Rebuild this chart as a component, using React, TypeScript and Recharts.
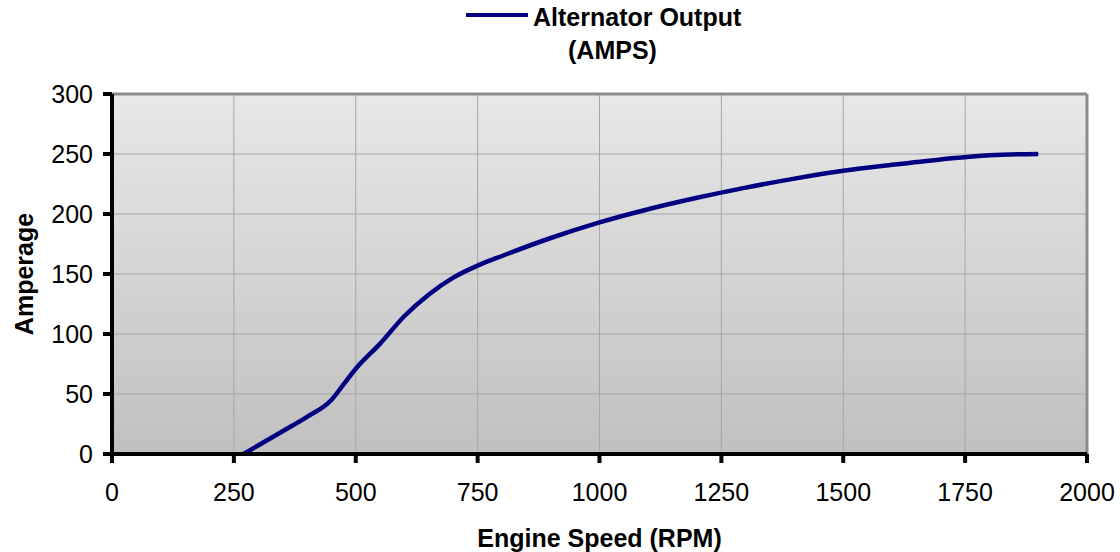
import { LineChart, Line, XAxis, YAxis, CartesianGrid, Legend, ReferenceLine } from "recharts"

// engine speed (RPM) and alternator output (amps)
const rpm = [270, 350, 400, 450, 475, 500, 550, 600, 650, 700, 750, 800, 900, 1000, 1100, 1200, 1300, 1400, 1500, 1600, 1700, 1800, 1900]
const amps = [0, 19, 31, 45, 58, 71, 92, 115, 133, 147, 157, 165, 180, 193, 204, 213.5, 222, 229.5, 236, 241, 245.5, 249, 250]

const xTicks = [0, 250, 500, 750, 1000, 1250, 1500, 1750, 2000]
const yTicks = [0, 50, 100, 150, 200, 250, 300]

const seriesName = "Alternator Output (AMPS)"
const xTitle = "Engine Speed (RPM)"
const yTitle = "Amperage"

const data = rpm.map((r, i) => ({ rpm: r, amps: amps[i] }))

const font = "'Liberation Sans', Arial, sans-serif"
const navy = "#000080"

const LegendBox = () => (
    <div style={{ position: "relative", width: 1120, height: 80, fontFamily: font, fontWeight: "bold", fontSize: 25, lineHeight: "25px", color: "#000" }}>
        <div style={{ position: "absolute", left: 466, top: 13, width: 62, height: 4, background: navy }} />
        <div style={{ position: "absolute", left: 533, top: 5, whiteSpace: "nowrap" }}>Alternator Output</div>
        <div style={{ position: "absolute", left: 568, top: 38, whiteSpace: "nowrap" }}>(AMPS)</div>
    </div>
)

const XTitle = (props: any) => {
    const { viewBox } = props
    return (
        <text x={viewBox.x + viewBox.width / 2} y={viewBox.y + 93} textAnchor="middle" fontFamily={font} fontWeight="bold" fontSize={25} fill="#000">
            {xTitle}
        </text>
    )
}

const YTitle = (props: any) => {
    const { viewBox } = props
    const cx = viewBox.x + 33
    const cy = viewBox.y + viewBox.height / 2
    return (
        <text x={cx} y={cy} transform={`rotate(-90 ${cx} ${cy})`} textAnchor="middle" fontFamily={font} fontWeight="bold" fontSize={25} fill="#000">
            {yTitle}
        </text>
    )
}

const App = () => {
    return (
        <div style={{ position: "absolute", left: 0, top: 0, background: "#fff" }}>
            <LineChart width={1120} height={552} data={data} margin={{ top: 94, right: 33, bottom: 0, left: 0 }}>
                <defs>
                    <linearGradient id="plotBg" x1="0" y1="0" x2="0" y2="1">
                        <stop offset="0%" stopColor="#e8e8e8" />
                        <stop offset="100%" stopColor="#c0c0c0" />
                    </linearGradient>
                </defs>
                <CartesianGrid fill="url(#plotBg)" stroke="#a6a6a6" strokeWidth={1} />
                <ReferenceLine y={300} stroke="#8c8c8c" strokeWidth={3} />
                <ReferenceLine x={2000} stroke="#8c8c8c" strokeWidth={3} />
                <XAxis
                    dataKey="rpm"
                    type="number"
                    domain={[0, 2000]}
                    ticks={xTicks}
                    interval={0}
                    height={98}
                    axisLine={{ stroke: "#000", strokeWidth: 4 }}
                    tickLine={{ stroke: "#000", strokeWidth: 4 }}
                    tickSize={9}
                    tickMargin={20}
                    tick={{ fontSize: 25, fill: "#000", fontFamily: font }}
                    label={{ content: <XTitle /> }}
                />
                <YAxis
                    type="number"
                    domain={[0, 300]}
                    ticks={yTicks}
                    interval={0}
                    width={112}
                    axisLine={{ stroke: "#000", strokeWidth: 4 }}
                    tickLine={{ stroke: "#000", strokeWidth: 4 }}
                    tickSize={9}
                    tickMargin={10}
                    tick={{ fontSize: 25, fill: "#000", fontFamily: font }}
                    label={{ content: <YTitle /> }}
                />
                <Legend
                    layout="horizontal"
                    verticalAlign="middle"
                    align="center"
                    wrapperStyle={{ top: 0, left: 0, width: 1120 }}
                    content={() => <LegendBox />}
                />
                <Line
                    name={seriesName}
                    type="monotone"
                    dataKey="amps"
                    stroke={navy}
                    strokeWidth={4.5}
                    dot={false}
                    isAnimationActive={false}
                />
            </LineChart>
        </div>
    )
}

export default App
